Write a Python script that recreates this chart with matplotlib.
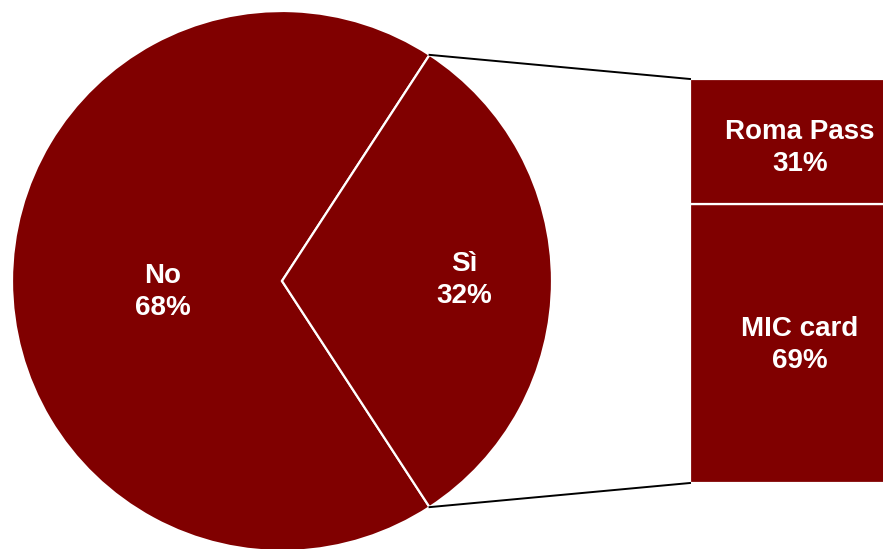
import matplotlib
matplotlib.use("Agg")
import matplotlib.pyplot as plt
import numpy as np

# pie: share of visitors who used a card
pie_labels = ["No", "Sì"]
pie_values = [68.4, 31.6]

# bar: which card, among those who said "Sì"
bar_labels = ["MIC card", "Roma Pass"]
bar_values = [69, 31]

color = "#800000"
W, H = 883, 549

plt.rcParams['font.family'] = ['Liberation Sans', 'DejaVu Sans']

fig = plt.figure(figsize=(W / 100, H / 100), dpi=100)
ax = fig.add_axes([0, 0, 1, 1])

# pie geometry in pixel units (y going up)
cx, cy, r = 282, H - 281, 270
half = pie_values[1] / sum(pie_values) * 180
start = 360 - pie_values[0] / sum(pie_values) * 360 - half

ax.pie(pie_values, center=(cx, cy), radius=r, startangle=start,
       colors=[color, color], wedgeprops=dict(edgecolor='white', linewidth=1.6),
       frame=True)
ax.set_xlim(0, W)
ax.set_ylim(0, H)
ax.set_aspect('equal')
ax.axis('off')

txt = dict(color='white', fontsize=20, fontweight='bold', ha='center',
           va='center', linespacing=1.3)
pie_pos = [(163, 292), (464, 280)]
for lab, v, (px, py) in zip(pie_labels, pie_values, pie_pos):
    ax.text(px, H - py, f"{lab}\n{round(v)}%", **txt)

# stacked bar on the right
bx, bw = 690, 220
b_bottom = H - 483
b_height = 404
bottom = b_bottom
bar_text_y = [345, 148]
for lab, v, ty in zip(bar_labels, bar_values, bar_text_y):
    h = v / sum(bar_values) * b_height
    ax.bar(bx, h, width=bw, bottom=bottom, align='edge', color=color,
           edgecolor='white', linewidth=1.6)
    ax.text(800, H - ty, f"{lab}\n{v}%", **txt)
    bottom += h
b_top = bottom

# connector lines from the slice edges to the bar corners
a = np.deg2rad(half)
ax.plot([cx + r * np.cos(a), bx], [cy + r * np.sin(a), b_top], color='black', lw=1.4)
ax.plot([cx + r * np.cos(a), bx], [cy - r * np.sin(a), b_bottom], color='black', lw=1.4)

fig.savefig("out.png", dpi=100)
